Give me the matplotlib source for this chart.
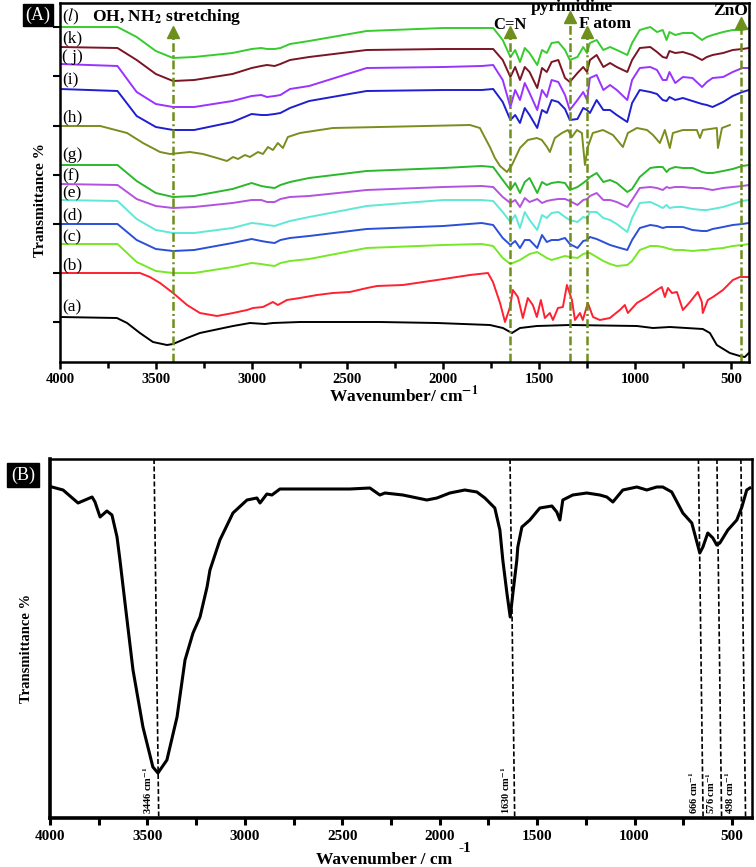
import numpy as np
import matplotlib
matplotlib.use("Agg")
import matplotlib.pyplot as plt
from matplotlib.ticker import MultipleLocator, NullFormatter

plt.rcParams['font.family'] = ['Liberation Serif', 'DejaVu Serif']
plt.rcParams['mathtext.fontset'] = 'stix'

# =========================
# Data (A): stacked FTIR spectra, offsets read downward (arb. units)
# =========================
grid = [4000, 3700, 3600, 3500, 3410, 3300, 3100, 3000, 2950, 2920, 2880, 2850, 2800, 2700, 2400,
        2000, 1800, 1740, 1690, 1650, 1625, 1600, 1575, 1550, 1510, 1485, 1460, 1435, 1400, 1365,
        1340, 1300, 1270, 1250, 1235, 1200, 1165, 1130, 1095, 1040, 1015, 975, 920, 885, 855,
        835, 820, 790, 750, 700, 650, 625, 595, 540, 490, 440, 405]

l_vals = [27, 27, 37, 51, 58, 57, 53, 49, 48, 49, 49, 48, 44, 41, 31,
          28, 28, 28, 40, 57, 50, 62, 48, 53, 65, 50, 53, 43, 42, 50,
          60, 57, 47, 53, 43, 40, 50, 47, 50, 55, 43, 30, 27, 32, 30,
          40, 32, 35, 33, 33, 40, 37, 35, 32, 30, 30, 28]
k_vals = [47, 48, 60, 74, 81, 80, 74, 68, 66, 65, 66, 64, 60, 57, 50,
          49, 49, 49, 60, 77, 67, 80, 67, 72, 88, 68, 72, 62, 60, 78,
          82, 73, 67, 72, 60, 55, 67, 63, 67, 72, 60, 48, 47, 52, 57,
          58, 51, 53, 52, 55, 60, 57, 55, 53, 50, 49, 48]
j_vals = [64, 66, 92, 104, 107, 107, 101, 96, 95, 97, 96, 95, 89, 86, 68,
          67, 66, 65, 80, 107, 90, 100, 83, 93, 110, 90, 97, 80, 82, 95,
          110, 100, 92, 100, 78, 75, 90, 85, 90, 100, 80, 68, 67, 70, 80,
          80, 72, 83, 77, 78, 87, 82, 78, 77, 72, 68, 68]
i_vals = [89, 91, 116, 127, 130, 130, 122, 114, 115, 115, 114, 113, 108, 101, 91,
          90, 90, 89, 102, 120, 115, 123, 108, 115, 128, 110, 113, 100, 102, 109,
          120, 119, 108, 110, 113, 100, 110, 110, 115, 122, 103, 90, 92, 94, 100,
          101, 97, 100, 98, 101, 104, 105, 107, 102, 96, 92, 90]
g_vals = [165, 165, 181, 193, 197, 196, 189, 183, 186, 187, 188, 185, 182, 178, 171,
          168, 166, 167, 180, 190, 183, 193, 182, 178, 193, 182, 185, 183, 182, 183,
          190, 187, 183, 180, 177, 173, 182, 180, 183, 192, 189, 177, 168, 167, 167,
          172, 169, 167, 168, 168, 172, 173, 173, 171, 169, 166, 165]
f_vals = [184, 185, 199, 206, 208, 207, 203, 200, 200, 202, 202, 199, 197, 196, 190,
          187, 186, 187, 197, 203, 200, 207, 198, 202, 199, 203, 201, 200, 199, 199,
          201, 205, 200, 199, 196, 193, 200, 200, 202, 207, 200, 188, 187, 188, 190,
          187, 188, 187, 187, 188, 188, 189, 190, 188, 187, 186, 185]
e_vals = [200, 201, 219, 230, 233, 233, 228, 223, 224, 225, 226, 224, 221, 217, 206,
          200, 200, 201, 212, 222, 215, 228, 212, 220, 230, 215, 218, 213, 212, 217,
          220, 222, 217, 218, 212, 212, 218, 220, 224, 232, 218, 203, 202, 205, 208,
          205, 208, 207, 207, 209, 210, 210, 209, 207, 204, 201, 200]
d_vals = [224, 224, 240, 249, 251, 250, 243, 239, 241, 242, 243, 240, 238, 236, 229,
          226, 223, 225, 238, 245, 241, 248, 240, 240, 248, 235, 242, 240, 240, 238,
          244, 248, 241, 240, 237, 239, 242, 245, 247, 250, 240, 228, 225, 226, 228,
          227, 227, 227, 227, 230, 231, 231, 229, 227, 225, 224, 223]
c_vals = [244, 244, 262, 271, 273, 273, 267, 263, 264, 265, 266, 263, 261, 259, 248,
          245, 244, 246, 258, 264, 262, 260, 257, 254, 252, 255, 258, 260, 258, 256,
          257, 258, 254, 253, 253, 257, 261, 264, 266, 265, 261, 250, 246, 246, 247,
          248, 249, 250, 250, 251, 250, 250, 249, 248, 246, 245, 244]

h_wn = [4000, 3790, 3650, 3567, 3478, 3426, 3374, 3322, 3254, 3181, 3129, 3097, 3071, 3035, 3009,
        2967, 2941, 2915, 2889, 2863, 2837, 2811, 2748, 2576, 2331, 1861, 1809, 1790, 1757, 1731,
        1704, 1668, 1642, 1600, 1559, 1512, 1486, 1459, 1444, 1418, 1381, 1350, 1329, 1303, 1277,
        1261, 1246, 1220, 1167, 1115, 1063, 1037, 990, 937, 906, 870, 844, 818, 802, 750,
        677, 661, 646, 573, 567, 546, 505]
h_vals = [126, 126, 133, 143, 152, 154, 153, 152, 154, 158, 161, 157, 159, 155, 157,
          152, 154, 147, 150, 143, 148, 137, 133, 128, 127, 125, 128, 135, 147, 158,
          166, 172, 165, 148, 140, 138, 140, 147, 152, 138, 133, 130, 137, 130, 133,
          165, 147, 133, 130, 135, 147, 133, 128, 130, 135, 143, 130, 148, 133, 130,
          130, 138, 130, 128, 148, 128, 125]

b_wn = [4000, 3583, 3531, 3478, 3410, 3337, 3270, 3181, 3097, 3024, 2993, 2941, 2889, 2863, 2816,
        2748, 2659, 2576, 2487, 2398, 2346, 2211, 2033, 1861, 1767, 1741, 1704, 1678, 1652, 1637,
        1611, 1585, 1559, 1533, 1512, 1491, 1470, 1444, 1428, 1402, 1376, 1355, 1329, 1313, 1287,
        1272, 1246, 1219, 1183, 1131, 1079, 1053, 1037, 990, 938, 886, 860, 844, 828, 807,
        781, 750, 713, 672, 651, 646, 620, 593, 541, 489, 453, 411]
b_vals = [273, 273, 277, 283, 293, 305, 313, 316, 313, 310, 308, 307, 302, 305, 300,
          298, 295, 293, 292, 288, 286, 285, 280, 275, 273, 282, 303, 322, 307, 290,
          297, 318, 298, 305, 317, 300, 318, 313, 320, 308, 307, 285, 300, 320, 313,
          320, 303, 317, 320, 318, 310, 305, 313, 303, 297, 290, 287, 297, 288, 293,
          292, 310, 302, 292, 302, 313, 300, 297, 290, 280, 277, 277]

a_wn = [4000, 3703, 3650, 3583, 3515, 3442, 3410, 3337, 3270, 3097, 3009, 2931, 2889, 2748, 2331,
        2033, 1757, 1689, 1642, 1600, 1512, 1339, 990, 906, 818, 646, 609, 573, 505, 453,
        427, 406]
a_vals = [317, 318, 323, 333, 342, 345, 344, 338, 333, 326, 323, 324, 323, 322, 322,
          323, 325, 328, 333, 328, 326, 325, 326, 328, 327, 329, 333, 345, 353, 356,
          357, 353]

labels_A = ['(a)', '(b)', '(c)', '(d)', '(e)', '(f)', '(g)', '(h)', '(i)', '( j)', '(k)', '($\\mathit{l}$)']
colors_A = ['black', '#ff2030', '#77e825', '#2b4fd8', '#5ee8d8', '#b452e0',
            '#2cb82c', '#7d8c1e', '#1f1fd0', '#9933ff', '#7b1424', '#36cc2e']
label_y = [307, 265, 237, 215, 193, 176, 155, 117, 80, 57, 38, 17]

bands = ['OH, NH$_\\mathbf{2}$ stretching', 'C=N', 'pyrimidine', 'F atom', 'ZnO']
band_wn = [3410, 1652, 1340, 1251, 448]
band_tip = [27, 27, 12, 27, 18]

# =========================
# Data (B): single spectrum
# =========================
B_wn = [3990, 3933, 3856, 3820, 3784, 3769, 3743, 3708, 3682, 3656, 3641, 3615, 3574, 3523, 3472,
        3446, 3400, 3348, 3307, 3266, 3230, 3194, 3179, 3128, 3061, 2989, 2938, 2922, 2887, 2861,
        2820, 2717, 2461, 2358, 2307, 2281, 2189, 2066, 2014, 1948, 1871, 1809, 1768, 1717, 1691,
        1676, 1655, 1638, 1624, 1604, 1599, 1578, 1537, 1486, 1424, 1399, 1383, 1368, 1317, 1245,
        1178, 1142, 1111, 1060, 988, 937, 886, 855, 809, 752, 706, 665, 649, 624, 598,
        578, 562, 521, 475, 449, 424, 408]
B_vals = [487, 490, 503, 500, 497, 502, 517, 511, 515, 537, 560, 603, 670, 727, 767,
          773, 760, 717, 660, 633, 617, 587, 570, 540, 513, 500, 498, 503, 494, 495,
          489, 489, 489, 488, 495, 493, 495, 500, 498, 493, 490, 492, 498, 508, 530,
          560, 593, 617, 593, 560, 547, 527, 520, 508, 506, 512, 520, 500, 495, 493,
          495, 497, 502, 490, 487, 490, 487, 487, 492, 513, 523, 553, 547, 533, 538,
          545, 543, 530, 520, 507, 490, 488]
peak_names = ['3446', '1630', '666', '576', '498']
peak_line = [3454, 1627, 660, 565, 442]
peak_text = [3500, 1660, 698, 612, 511]

olive = '#6f8f1c'
fig = plt.figure(figsize=(7.56, 8.67), dpi=100)

# =========================
# Panel A
# =========================
axA = fig.add_axes([60/756, 1-362/867, 689/756, 359/867])
series = [(a_wn, a_vals), (b_wn, b_vals), (grid, c_vals), (grid, d_vals), (grid, e_vals),
          (grid, f_vals), (grid, g_vals), (h_wn, h_vals), (grid, i_vals), (grid, j_vals),
          (grid, k_vals), (grid, l_vals)]
for (x, y), col in zip(series, colors_A):
    axA.plot(x, y, color=col, lw=1.4, solid_joinstyle='round')
for lab, yy in zip(labels_A, label_y):
    axA.text(3990, yy, lab, fontsize=12.5, va='center', ha='left')

for wn, tip in zip(band_wn, band_tip):
    axA.plot([wn, wn], [362, tip + 7], color=olive, lw=1.8, ls=(0, (3.5, 1.3, 0.8, 1.3)))
    axA.plot(wn, tip + 5, marker='^', ms=9, color=olive, mec=olive)

axA.text(3835, 17, bands[0], fontsize=12.5, fontweight='bold', ha='left', va='center')
axA.text(1652, 25, bands[1], fontsize=12, fontweight='bold', ha='center', va='center')
axA.text(1330, 7, bands[2], fontsize=12.5, fontweight='bold', ha='center', va='center')
axA.text(1155, 24, bands[3], fontsize=12.5, fontweight='bold', ha='center', va='center')
axA.text(500, 11, bands[4], fontsize=12.5, fontweight='bold', ha='center', va='center')

axA.set_xlim(4000, 405)
axA.set_ylim(362, 3)
axA.xaxis.set_major_locator(MultipleLocator(500))
axA.xaxis.set_minor_locator(MultipleLocator(250))
axA.set_yticks([27, 76, 126, 175, 224, 273, 322])
axA.yaxis.set_major_formatter(NullFormatter())
axA.tick_params(axis='x', which='major', direction='out', length=5, width=1.8, labelsize=10.5, pad=3)
axA.tick_params(axis='x', which='minor', direction='out', length=4, width=1.8)
axA.tick_params(axis='y', direction='out', length=5, width=1.5)
for lbl in axA.get_xticklabels():
    lbl.set_fontweight('bold')
for s in axA.spines.values():
    s.set_linewidth(1.8)
fig.text(404/756, 1-395/867, 'Wavenumber/ cm$^{\\mathbf{-1}}$', fontsize=12.5, fontweight='bold',
         ha='center', va='center')
fig.text(40/756, 1-200/867, 'Transmittance %', fontsize=11, fontweight='bold', rotation=90,
         ha='center', va='center')
fig.text(38/756, 1-15/867, '(A)', fontsize=13, color='white', ha='center', va='center',
         bbox=dict(facecolor='black', edgecolor='black', boxstyle='square,pad=0.15'))

# =========================
# Panel B
# =========================
axB = fig.add_axes([50/756, 1-818/867, 702/756, 359/867])
axB.plot(B_wn, B_vals, color='black', lw=2.2, solid_joinstyle='round')
for name, wn, tx in zip(peak_names, peak_line, peak_text):
    axB.plot([wn + 12, wn - 12], [459, 818], color='black', lw=1.2, ls=(0, (3, 1.5)))
    axB.text(tx, 814, name + ' cm$^{\\mathbf{-1}}$', fontsize=7.5, fontweight='bold',
             rotation=90, ha='center', va='bottom')
axB.set_xlim(4000, 397)
axB.set_ylim(818, 459)
axB.xaxis.set_major_locator(MultipleLocator(500))
axB.xaxis.set_minor_locator(MultipleLocator(250))
axB.set_yticks([])
axB.tick_params(axis='x', which='major', direction='out', length=5, width=2.2, labelsize=11, pad=4)
axB.tick_params(axis='x', which='minor', direction='out', length=5, width=2.2)
for lbl in axB.get_xticklabels():
    lbl.set_fontweight('bold')
for s in axB.spines.values():
    s.set_linewidth(1.8)
axB.spines['bottom'].set_linewidth(2.6)
axB.spines['left'].set_linewidth(2.6)
fig.text(384/756, 1-860/867, 'Wavenumber / cm', fontsize=12.5, fontweight='bold', ha='center', va='center')
fig.text(465/756, 1-849/867, '-1', fontsize=11, fontweight='bold', ha='center', va='center')
fig.text(27/756, 1-648/867, 'Transmittance %', fontsize=10.5, fontweight='bold', rotation=90,
         ha='center', va='center')
fig.text(23/756, 1-475/867, '(B)', fontsize=13, color='white', ha='center', va='center',
         bbox=dict(facecolor='black', edgecolor='black', boxstyle='square,pad=0.2'))

fig.savefig('out.png', dpi=100)
